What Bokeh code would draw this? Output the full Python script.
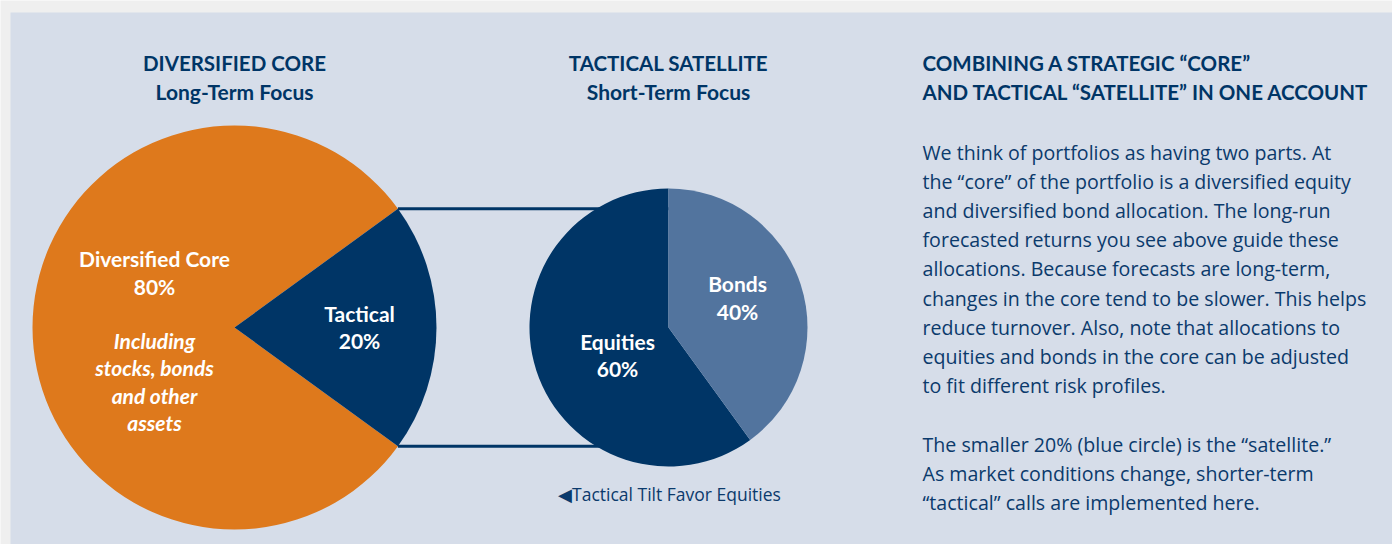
import math
from bokeh.plotting import figure
from bokeh.models import Range1d
from bokeh.core.properties import value
from bokeh.embed import file_html
from bokeh.resources import INLINE

# ---------------- data ----------------
core_labels = ["Diversified Core", "Tactical"]
core_values = [80, 20]
satellite_labels = ["Equities", "Bonds"]
satellite_values = [60, 40]

core_title = ["DIVERSIFIED CORE", "Long-Term Focus"]
satellite_title = ["TACTICAL SATELLITE", "Short-Term Focus"]
core_note = ["Including", "stocks, bonds", "and other", "assets"]
satellite_note = "\u25C0Tactical Tilt Favor Equities"

side_title = ["COMBINING A STRATEGIC \u201cCORE\u201d",
              "AND TACTICAL \u201cSATELLITE\u201d IN ONE ACCOUNT"]
side_para1 = [
    "We think of portfolios as having two parts. At",
    "the \u201ccore\u201d of the portfolio is a diversified equity",
    "and diversified bond allocation. The long-run",
    "forecasted returns you see above guide these",
    "allocations. Because forecasts are long-term,",
    "changes in the core tend to be slower. This helps",
    "reduce turnover. Also, note that allocations to",
    "equities and bonds in the core can be adjusted",
    "to fit different risk profiles.",
]
side_para2 = [
    "The smaller 20% (blue circle) is the \u201csatellite.\u201d",
    "As market conditions change, shorter-term",
    "\u201ctactical\u201d calls are implemented here.",
]

# ---------------- style ----------------
ORANGE = "#de791c"
NAVY = "#003566"
LIGHT = "#52749e"
PANEL = "#d6dde9"
PAGE = "#efefef"
TEXT = "#0b3a6c"
FONT = "Lato"
BODY_FONT = "Open Sans"

W, H = 1392, 544


def Y(sy):
    return H - sy


p = figure(width=W, height=H, output_backend="svg", toolbar_location=None,
           x_range=Range1d(0, W), y_range=Range1d(0, H),
           min_border=0, background_fill_color=PAGE, border_fill_color=PAGE)
p.axis.visible = False
p.grid.visible = False
p.outline_line_color = None

# panel
p.quad(left=10, right=W, bottom=0, top=Y(12), fill_color=PANEL, line_color=None)

# ---------------- big pie ----------------
cx1, cy1, r1 = 234, Y(327), 202
tot1 = sum(core_values)
tact_half = math.pi * core_values[1] / tot1
core_starts = [tact_half, -tact_half]
core_ends = [2 * math.pi - tact_half, tact_half]
p.wedge(x=cx1, y=cy1, radius=r1, start_angle=core_starts, end_angle=core_ends,
        fill_color=[ORANGE, NAVY], line_color=None)

# ---------------- connectors ----------------
cx2, cy2, r2 = 668, Y(327), 139
tip_x = cx1 + r1 * math.cos(tact_half)
tip_dy = r1 * math.sin(tact_half)
p.segment(x0=[tip_x, tip_x], y0=[cy1 + tip_dy, cy1 - tip_dy],
          x1=[cx2, cx2], y1=[cy1 + tip_dy, cy1 - tip_dy],
          line_color=NAVY, line_width=3)

# ---------------- small pie ----------------
tot2 = sum(satellite_values)
bond_span = 2 * math.pi * satellite_values[1] / tot2
sat_starts = [math.pi / 2, math.pi / 2 - bond_span]
sat_ends = [math.pi / 2 + 2 * math.pi * satellite_values[0] / tot2, math.pi / 2]
p.wedge(x=cx2, y=cy2, radius=r2, start_angle=sat_starts, end_angle=sat_ends,
        fill_color=[NAVY, LIGHT], line_color=None)


def txt(x, y, t, size, color, style="bold", align="center", font=FONT):
    p.text(x=[x], y=[Y(y)], text=[t], text_font=value(font),
           text_font_size=f"{size}px", text_font_style=style,
           text_color=color, text_align=align, text_baseline="middle")


# titles
for i, t in enumerate(core_title):
    txt(cx1, 62 + 29 * i, t, 21 if i else 20.5, NAVY)
for i, t in enumerate(satellite_title):
    txt(cx2, 62 + 29 * i, t, 21 if i else 20.5, NAVY)

# pie labels
LS = 21
txt(154, 258, core_labels[0], LS, "white")
txt(154, 286, f"{core_values[0]}%", LS, "white")
for i, t in enumerate(core_note):
    txt(154, 340 + 27.3 * i, t, LS, "white", style="bold italic")
txt(359, 313, core_labels[1], LS, "white")
txt(359, 340, f"{core_values[1]}%", LS, "white")
txt(737, 283, satellite_labels[1], LS, "white")
txt(737, 311, f"{satellite_values[1]}%", LS, "white")
txt(617, 341, satellite_labels[0], LS, "white")
txt(617, 368, f"{satellite_values[0]}%", LS, "white")

txt(669, 493, satellite_note, 17.5, TEXT, style="normal", font=BODY_FONT)

# side text
for i, t in enumerate(side_title):
    txt(922, 62 + 29 * i, t, 20.5, NAVY, align="left")
for i, t in enumerate(side_para1):
    txt(922, 152 + 29.1 * i, t, 19.6, TEXT, style="normal", align="left", font=BODY_FONT)
for i, t in enumerate(side_para2):
    txt(922, 444 + 29.1 * i, t, 19.6, TEXT, style="normal", align="left", font=BODY_FONT)

open("out.html", "w").write(file_html(p, INLINE))
